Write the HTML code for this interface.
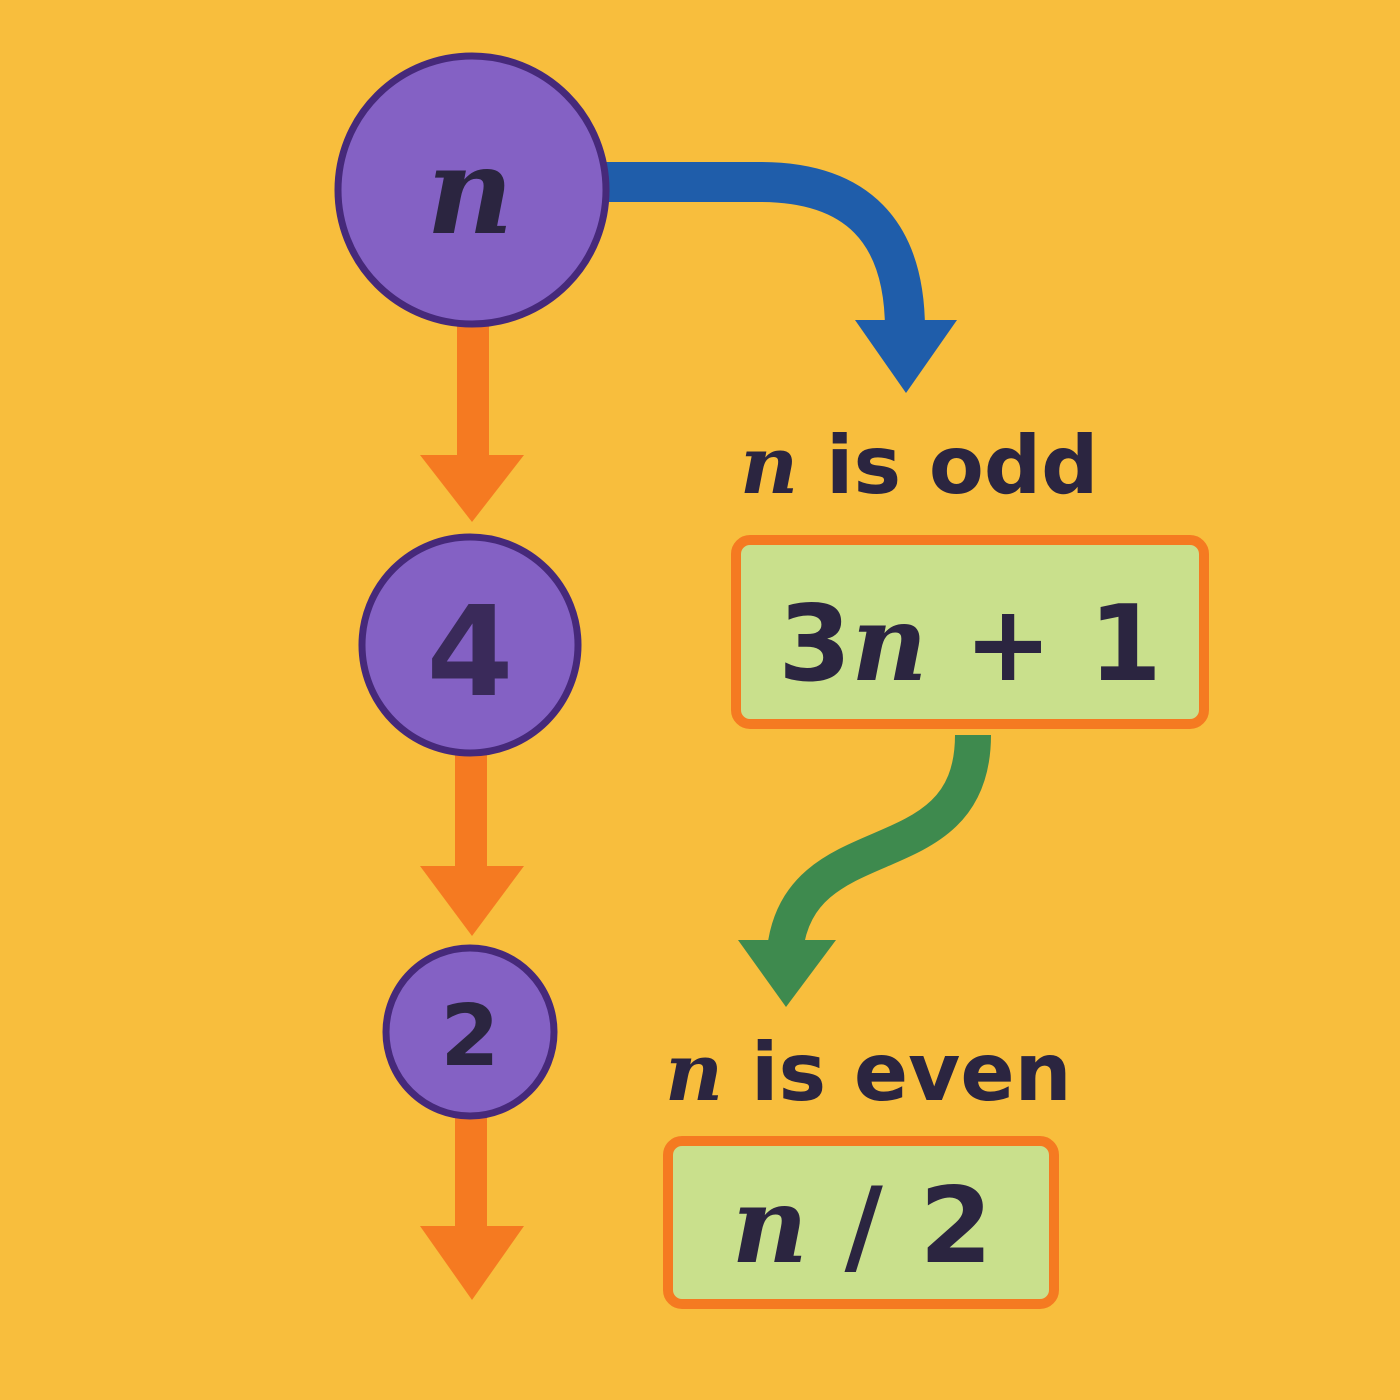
<!DOCTYPE html>
<html><head><meta charset="utf-8"><style>
html,body{margin:0;padding:0;background:#F8BE3D;}
svg{display:block}
text{font-family:"DejaVu Sans","Liberation Sans",sans-serif;fill:#2B2540;font-weight:bold;}
.it{font-family:"DejaVu Serif","Liberation Serif",serif;font-style:italic;}
</style></head><body>
<svg width="1400" height="1400" viewBox="0 0 1400 1400" xmlns="http://www.w3.org/2000/svg">
<rect width="1400" height="1400" fill="#F8BE3D"/>
<g fill="#F57A21">
<rect x="457" y="320" width="32" height="140"/>
<polygon points="420,455 524,455 472,522"/>
<rect x="455" y="745" width="32" height="125"/>
<polygon points="420,866 524,866 472,936"/>
<rect x="455" y="1105" width="32" height="125"/>
<polygon points="420,1226 524,1226 472,1300"/>
</g>
<path d="M600,182 L760,182 Q905,182 905,330" fill="none" stroke="#1F5DAA" stroke-width="40"/>
<polygon points="855,320 957,320 906,393" fill="#1F5DAA"/>
<path d="M973,735 C973,880 800,820 785,950" fill="none" stroke="#3E8A4E" stroke-width="36"/>
<polygon points="738,940 836,940 786,1007" fill="#3E8A4E"/>
<g fill="#8461C4" stroke="#46297A" stroke-width="7">
<circle cx="472" cy="190" r="134"/>
<circle cx="470" cy="645" r="108"/>
<circle cx="470" cy="1032" r="84"/>
</g>
<text x="470" y="233" font-size="120" text-anchor="middle" class="it">n</text>
<text x="470" y="695" font-size="125" text-anchor="middle" style="fill:#3A2A5A">4</text>
<text x="470" y="1065" font-size="85" text-anchor="middle">2</text>
<text x="740" y="493" font-size="80"><tspan class="it">n</tspan> is odd</text>
<rect x="736" y="540" width="468" height="184" rx="14" fill="#C9E08C" stroke="#F57A21" stroke-width="10"/>
<text x="970" y="680" font-size="105" text-anchor="middle">3<tspan class="it">n</tspan> + 1</text>
<text x="665" y="1100" font-size="80"><tspan class="it">n</tspan> is even</text>
<rect x="668" y="1141" width="386" height="163" rx="14" fill="#C9E08C" stroke="#F57A21" stroke-width="10"/>
<text x="862" y="1262" font-size="105" text-anchor="middle"><tspan class="it">n</tspan> / 2</text>
</svg>
</body></html>
